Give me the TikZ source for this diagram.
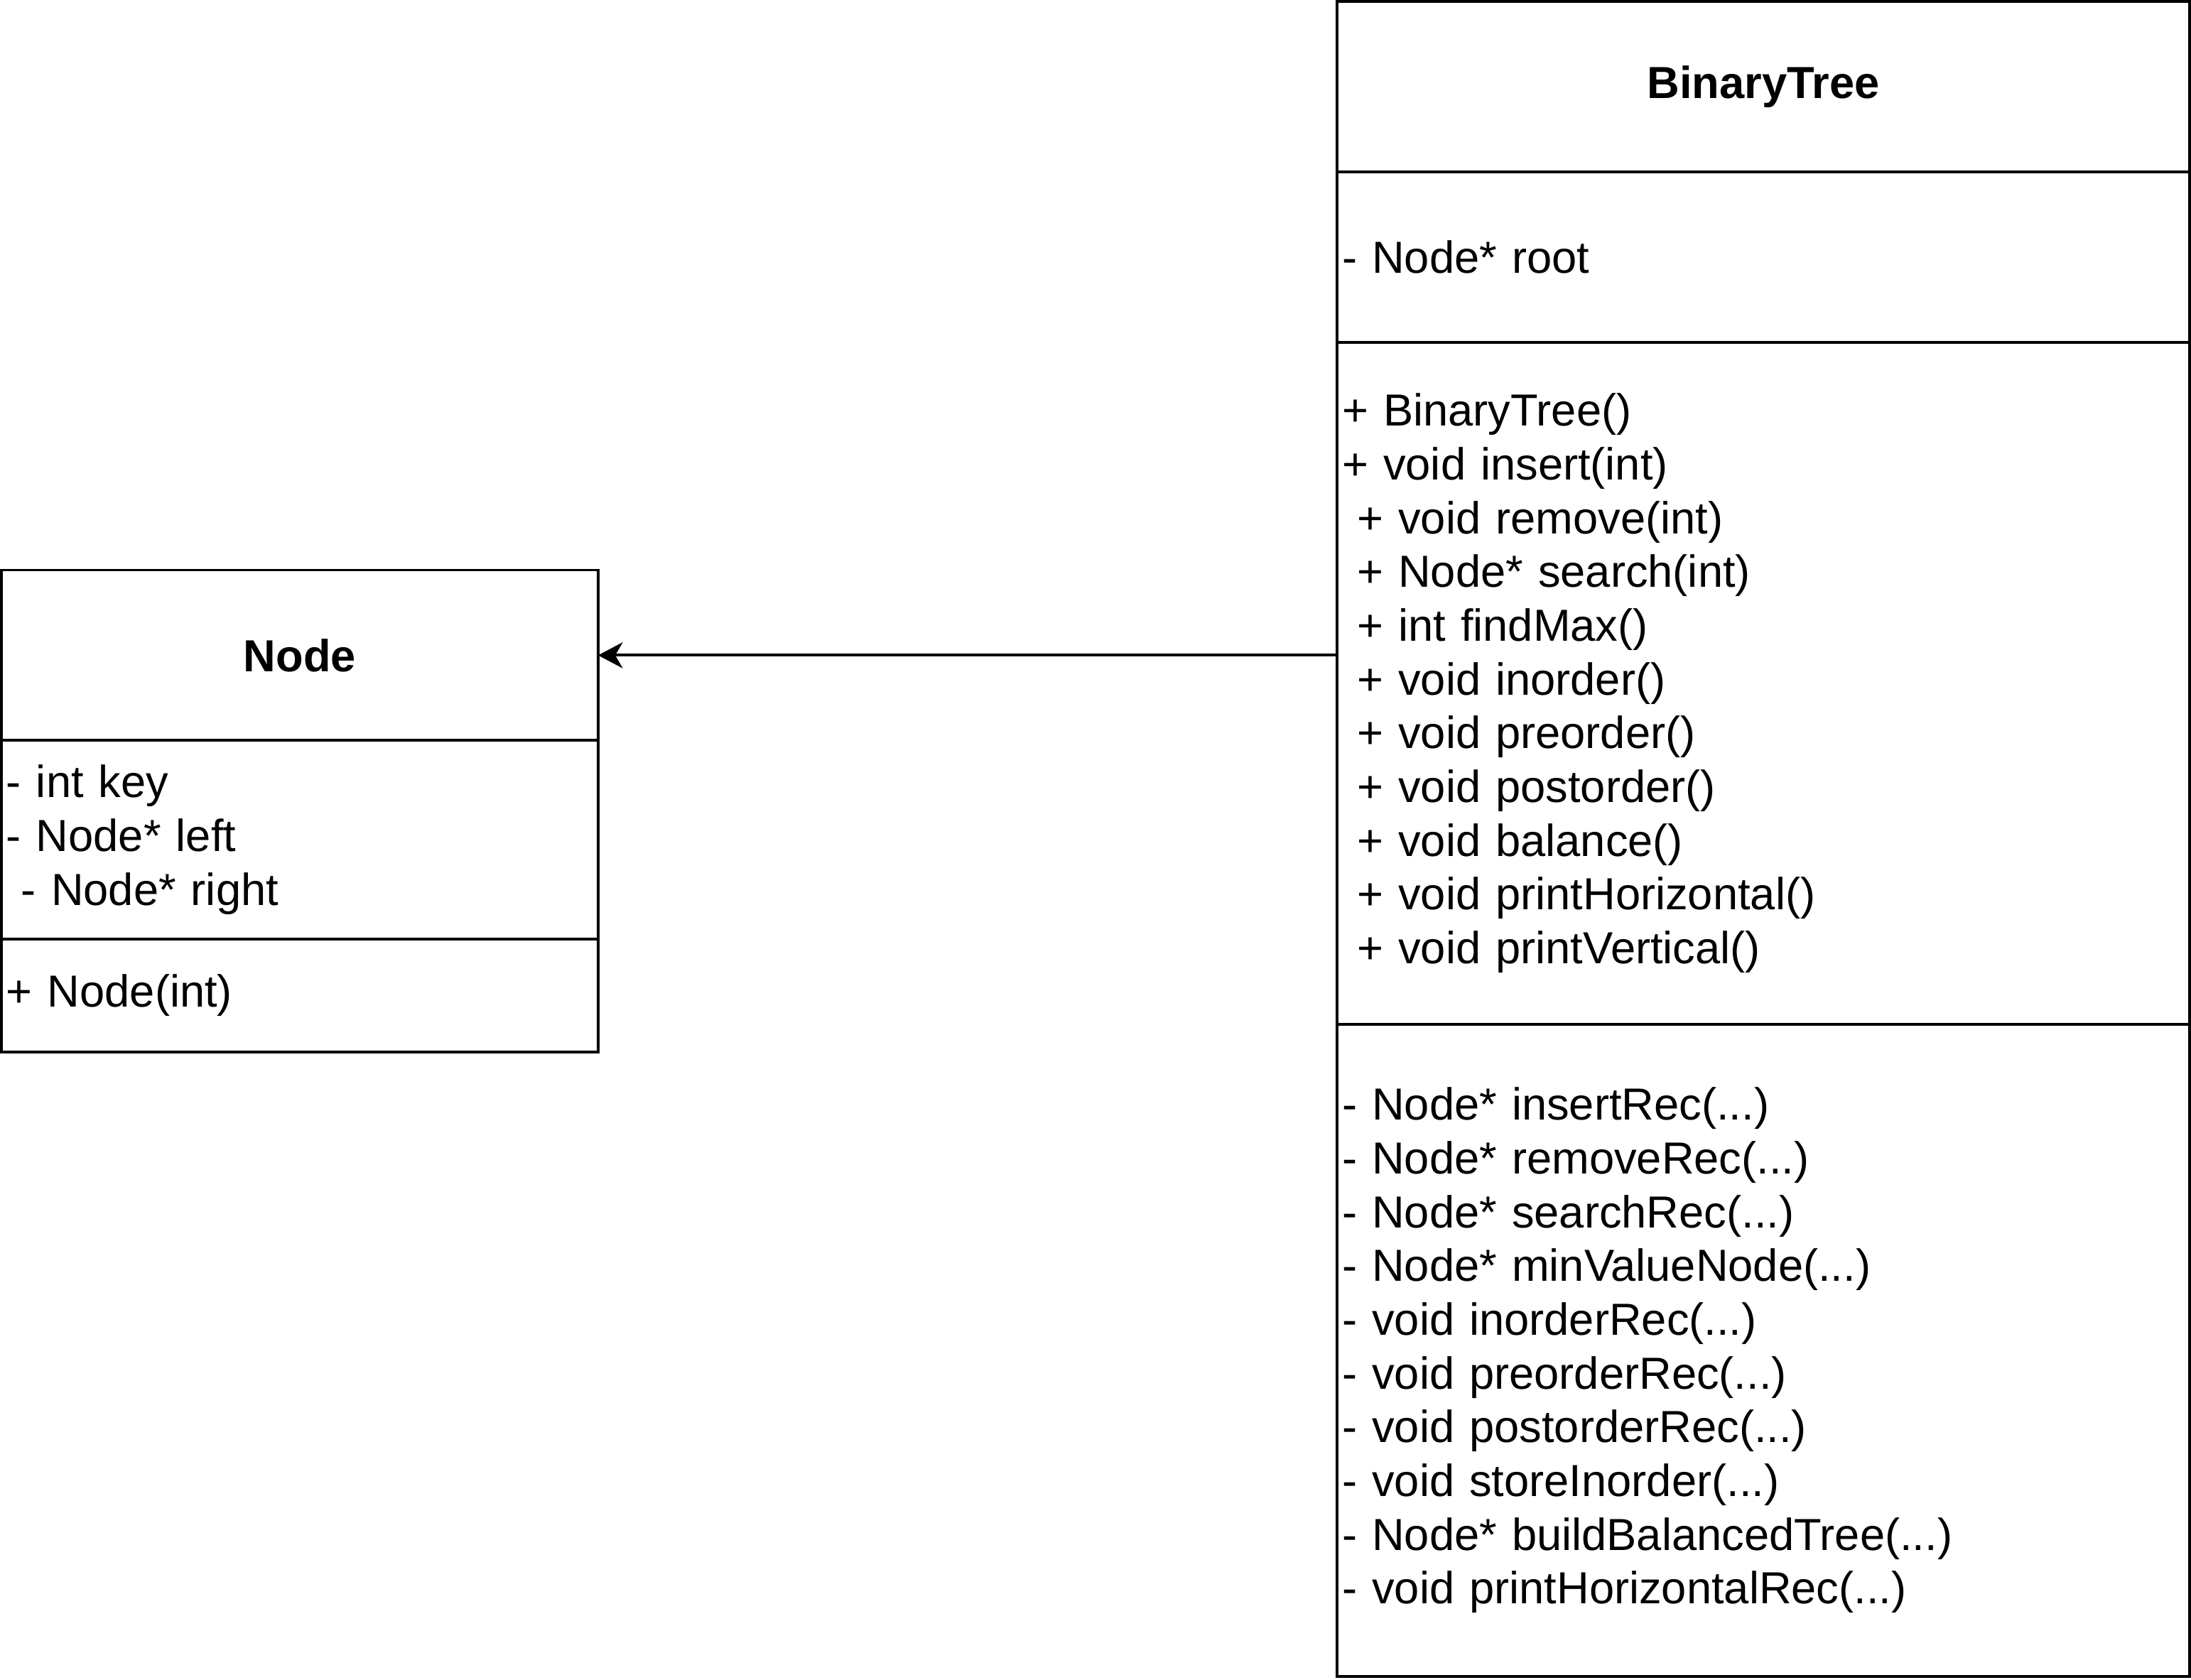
\documentclass[tikz,border=0pt]{standalone}
\usepackage{fontspec}
\setmainfont{Liberation Sans}
\usetikzlibrary{arrows.meta,positioning}

\tikzset{
  classbox/.style={draw, line width=1.15pt, outer sep=0pt, inner xsep=0.07cm, inner ysep=0pt,
    anchor=north west, align=left, font=\fontsize{18.3}{21.9}\selectfont},
  classtitle/.style={classbox, align=center, font=\bfseries\fontsize{18.3}{21.9}\selectfont}
}

\begin{document}
\begin{tikzpicture}

\useasboundingbox (0,0) rectangle (31.36,-24.04);

% Classe BinaryTree (a droite)
\node[classtitle, text width=12.06cm, minimum height=2.44cm] (treeTitle) at (19.14,-0.02) {BinaryTree};
\node[classbox, text width=12.06cm, minimum height=2.44cm] (treeAttr) at (treeTitle.south west) {- Node* root};
\node[classbox, text width=12.06cm, minimum height=9.76cm] (treePub) at (treeAttr.south west)
  {+ BinaryTree()\\
   + void insert(int)\\
   \mbox{}\ + void remove(int)\\
   \mbox{}\ + Node* search(int)\\
   \mbox{}\ + int findMax()\\
   \mbox{}\ + void inorder()\\
   \mbox{}\ + void preorder()\\
   \mbox{}\ + void postorder()\\
   \mbox{}\ + void balance()\\
   \mbox{}\ + void printHorizontal()\\
   \mbox{}\ + void printVertical()};
\node[classbox, text width=12.06cm, minimum height=9.34cm] (treePriv) at (treePub.south west)
  {- Node* insertRec(...)\\
   - Node* removeRec(...)\\
   - Node* searchRec(...)\\
   - Node* minValueNode(...)\\
   - void inorderRec(...)\\
   - void preorderRec(...)\\
   - void postorderRec(...)\\
   - void storeInorder(...)\\
   - Node* buildBalancedTree(...)\\
   - void printHorizontalRec(...)};

% Classe Node (a gauche)
\node[classtitle, text width=8.40cm, minimum height=2.44cm] (nodeTitle) at (0.02,-8.16) {Node};
\node[classbox, text width=8.40cm, minimum height=2.84cm] (nodeFields) at (nodeTitle.south west)
  {- int key\\
   - Node* left\\
   \mbox{}\ - Node* right};
\node[classbox, text width=8.40cm, minimum height=1.62cm] (nodeMethods) at (nodeFields.south west) {+ Node(int)};

% Association
\draw[-{Stealth[length=10pt,width=10.5pt,inset=3pt]}, line width=1.15pt] (treePub.west |- nodeTitle.east) -- (nodeTitle.east);

\end{tikzpicture}
\end{document}
